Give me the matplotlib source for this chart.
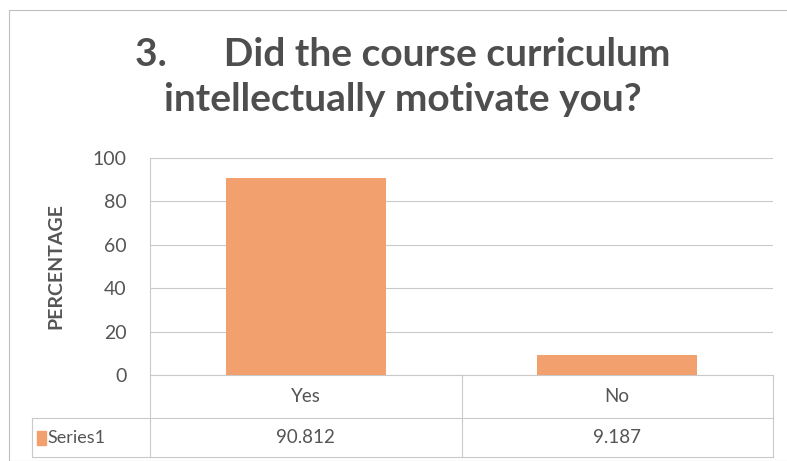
import matplotlib.pyplot as plt
from matplotlib.patches import Rectangle
import matplotlib.transforms as mtransforms

# data
categories = ['Yes', 'No']
values = [90.812, 9.187]
value_labels = ['90.812', '9.187']
series_name = 'Series1'
yticks = [0, 20, 40, 60, 80, 100]

bar_color = '#F2A06D'
text_color = '#555555'
grid_color = '#C9C9C9'

plt.rcParams['font.family'] = ['Lato', 'DejaVu Sans']

fig = plt.figure(figsize=(7.87, 4.61), dpi=100)
ax = fig.add_axes([150 / 787, 86 / 461, 623 / 787, 217 / 461])

x = list(range(len(categories)))
ax.bar(x, values, width=0.515, color=bar_color, zorder=3)

ax.set_xlim(-0.5, len(categories) - 0.5)
ax.set_ylim(0, 100)
ax.set_yticks(yticks)
ax.set_xticks([])
ax.tick_params(axis='y', length=0, pad=17, labelsize=14, labelcolor=text_color)
ax.grid(axis='y', color=grid_color, linewidth=0.8, zorder=0)
for s in ['top', 'right', 'bottom']:
    ax.spines[s].set_visible(False)
ax.spines['left'].set_color(grid_color)
ax.spines['left'].set_linewidth(0.8)

ax.set_ylabel('PERCENTAGE', fontsize=14, fontweight='bold', color=text_color)
ax.yaxis.set_label_coords((64 - 150) / 623, 0.5)

# data table under the plot
trans = mtransforms.blended_transform_factory(ax.transData, ax.transAxes)
r1 = -43 / 217   # bottom of category row
r2 = -82 / 217   # bottom of series row
tl = (32 - 150) / 623  # left of series label cell
lkw = dict(color=grid_color, linewidth=0.8, clip_on=False)
ax.plot([-0.5, len(categories) - 0.5], [0, 0], transform=trans, **lkw)
ax.plot([tl, 1], [r1, r1], transform=ax.transAxes, **lkw)
ax.plot([tl, 1], [r2, r2], transform=ax.transAxes, **lkw)
ax.plot([tl, tl], [r1, r2], transform=ax.transAxes, **lkw)
for b in [i - 0.5 for i in range(len(categories) + 1)]:
    ax.plot([b, b], [0, r2], transform=trans, **lkw)

for i, (c, v) in enumerate(zip(categories, value_labels)):
    ax.text(i, r1 / 2, c, transform=trans, ha='center', va='center', fontsize=13.5, color=text_color)
    ax.text(i, (r1 + r2) / 2, v, transform=trans, ha='center', va='center', fontsize=13.5, color=text_color)

ax.add_patch(Rectangle((tl + 5 / 623, (r1 + r2) / 2 - 7 / 217), 9 / 623, 14 / 217,
                       transform=ax.transAxes, color=bar_color, clip_on=False))
ax.text(tl + 15 / 623, (r1 + r2) / 2, series_name, transform=ax.transAxes,
        ha='left', va='center', fontsize=13, color=text_color)

fig.text(0.512, 1 - 77 / 461, '3.      Did the course curriculum\nintellectually motivate you?',
         ha='center', va='center', fontsize=28, fontweight='bold', color='#4E4E4E',
         linespacing=1.33)

# chart border
fig.patches.append(Rectangle((9 / 787, 0), 1, 1 - 10 / 461, transform=fig.transFigure,
                             fill=False, edgecolor='#BFBFBF', linewidth=0.8))

fig.savefig('out.png', dpi=100)
